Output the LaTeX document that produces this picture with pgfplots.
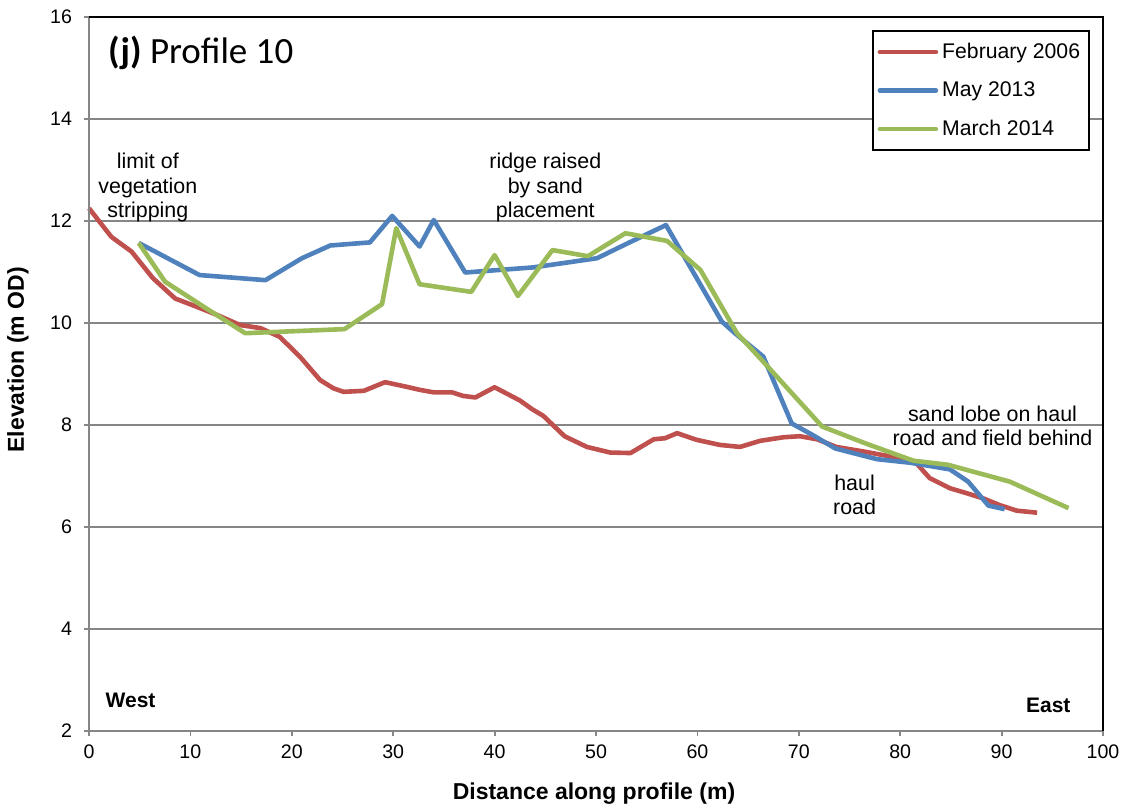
\documentclass[border=0pt]{standalone}
\usepackage{pgfplots}
\pgfplotsset{compat=1.18}
\usepackage{fontspec}
\setmainfont{Liberation Sans}
\newfontfamily\calibri{Carlito}
\definecolor{exred}{HTML}{C0504D}
\definecolor{exblue}{HTML}{4F81BD}
\definecolor{exgreen}{HTML}{9BBB59}
\definecolor{gridgray}{HTML}{868686}

\begin{document}
\begin{tikzpicture}
\begin{axis}[
    name=ax,
    scale only axis,
    width=507pt, height=357pt,
    xmin=0, xmax=100, ymin=2, ymax=16,
    xtick={0,10,...,100}, ytick={2,4,...,16},
    xtick pos=bottom, ytick pos=left,
    ymajorgrids,
    grid style={gridgray, line width=0.9pt},
    axis line style={draw=none},
    tick align=outside, major tick length=2.5pt,
    tick style={gridgray, line width=0.9pt},
    ticklabel style={font=\fontsize{9.8}{11}\selectfont},
    yticklabel style={xshift=-2.5pt},
    xticklabel style={yshift=-1pt},
    /pgf/number format/assume math mode=true,
    clip=false,
    xlabel={\bfseries Distance along profile (m)},
    ylabel={\bfseries Elevation (m OD)},
    label style={font=\fontsize{11.5}{13}\selectfont},
    xlabel style={at={(axis description cs:0.498,-0.087)}, anchor=center},
    ylabel style={at={(axis description cs:-0.070,0.52)}, anchor=center},
    legend style={at={(rel axis cs:1,1)}, anchor=north east,
        xshift=-6.5pt, yshift=-6.5pt, draw=black, line width=0.9pt,
        font=\fontsize{10.6}{12}\selectfont,
        inner xsep=2.5pt, inner ysep=4pt, row sep=6.2pt},
    legend cell align=left,
    legend image code/.code={\draw[#1, line width=2.3pt, line cap=round] (0pt,0pt) -- (28pt,0pt);},
    every axis plot/.append style={line width=2.3pt, line join=round},
]
% February 2006
\addplot[exred] coordinates {
(0,12.25) (2.2,11.69) (4.2,11.40) (6.3,10.88) (8.5,10.48) (10.6,10.32)
(12.6,10.16) (14.9,9.96) (16.9,9.90) (18.8,9.73) (20.8,9.34) (22.8,8.88)
(24.1,8.72) (25.1,8.65) (27.1,8.67) (29.2,8.84) (31.3,8.75) (32.6,8.69)
(34.0,8.64) (35.8,8.64) (36.9,8.57) (38.1,8.54) (40.0,8.74) (42.5,8.48)
(43.7,8.31) (44.8,8.18) (46.9,7.78) (49.1,7.57) (51.4,7.46) (53.4,7.45)
(55.7,7.72) (56.8,7.74) (58.0,7.84) (59.9,7.71) (62.2,7.61) (64.2,7.57)
(66.2,7.69) (68.5,7.76) (70.1,7.78) (71.8,7.72) (73.7,7.57) (76.4,7.48)
(78.3,7.41) (80.6,7.33) (81.6,7.25) (82.9,6.96) (84.9,6.76) (86.6,6.66)
(88.2,6.56) (89.8,6.43) (91.5,6.32) (93.5,6.28)
};
\addlegendentry{February 2006}
% May 2013
\addplot[exblue] coordinates {
(4.9,11.57) (10.9,10.94) (17.4,10.84) (21.0,11.27) (23.8,11.52) (27.7,11.58)
(29.9,12.10) (32.6,11.50) (34.0,12.02) (37.1,10.99) (43.8,11.09) (50.1,11.27)
(53.2,11.57) (56.9,11.92) (62.4,10.03) (63.7,9.80) (66.5,9.34) (69.3,8.03)
(71.4,7.80) (73.6,7.54) (77.7,7.33) (81.0,7.26) (84.9,7.13) (86.7,6.89)
(88.7,6.42) (90.3,6.35)
};
\addlegendentry{May 2013}
% March 2014
\addplot[exgreen] coordinates {
(4.9,11.57) (7.5,10.81) (11.3,10.32) (15.4,9.80) (25.2,9.88) (28.9,10.37)
(30.3,11.86) (32.6,10.76) (37.7,10.61) (40.0,11.33) (42.3,10.53) (45.7,11.43)
(49.2,11.31) (52.9,11.76) (57.0,11.61) (60.3,11.04) (63.9,9.80) (66.5,9.24)
(72.3,7.97) (76.7,7.63) (81.3,7.30) (84.7,7.22) (90.8,6.89) (96.6,6.37)
};
\addlegendentry{March 2014}

% frame
\draw[gridgray, line width=0.9pt] (rel axis cs:0,1) -- (rel axis cs:0,0) -- (rel axis cs:1,0);
\draw[black, line width=1pt] (rel axis cs:0,1) -- (rel axis cs:1,1) -- (rel axis cs:1,0);

% annotations
\node[anchor=west, font=\calibri\fontsize{18.5}{22}\selectfont] at (axis cs:1.2,15.29) {\textbf{(j)} Profile 10};
\node[align=center, font=\fontsize{10.7}{12.25}\selectfont] at (axis cs:5.8,12.65) {limit of\\vegetation\\stripping};
\node[align=center, font=\fontsize{10.7}{12.25}\selectfont] at (axis cs:45.0,12.65) {ridge raised\\by sand\\placement};
\node[align=center, font=\fontsize{10.7}{12.25}\selectfont] at (axis cs:75.5,6.63) {haul\\road};
\node[align=center, font=\fontsize{10.7}{12.25}\selectfont] at (axis cs:89.1,7.98) {sand lobe on haul\\road and field behind};
\node[font=\bfseries\fontsize{10.5}{12}\selectfont] at (axis cs:4.1,2.61) {West};
\node[font=\bfseries\fontsize{10.5}{12}\selectfont] at (axis cs:94.6,2.51) {East};
\end{axis}
\pgfresetboundingbox
\path (ax.south west) ++(-44.5pt,-38.5pt) rectangle ([shift={(10pt,8.5pt)}]ax.north east);
\end{tikzpicture}
\end{document}
